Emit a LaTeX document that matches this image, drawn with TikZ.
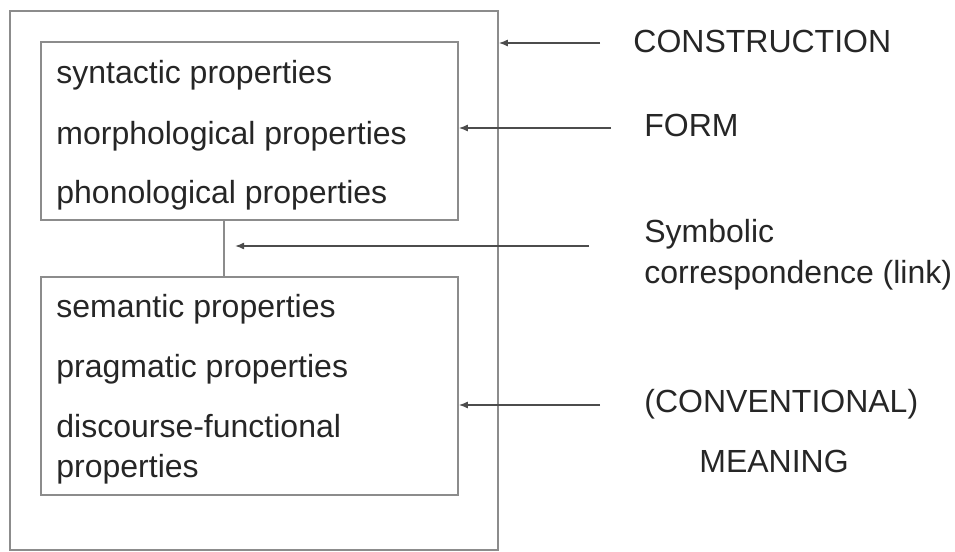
\documentclass[tikz,border=0pt]{standalone}
\usepackage{fontspec}
\setmainfont{Liberation Sans}
\usetikzlibrary{arrows.meta,positioning}

\begin{document}
\begin{tikzpicture}[x=0.5pt, y=-0.5pt,
	box/.style={draw=black!45, line width=0.75pt, inner sep=0pt},
	prop/.style={anchor=base west, inner sep=0pt, text=black!85, font=\fontsize{16}{19}\selectfont},
	arr/.style={-{Latex[length=4.5pt,width=3.5pt]}, draw=black!70, line width=0.75pt}]

		\useasboundingbox (0,0) rectangle (955,552);

		% boxes
		\node[box, minimum width=244pt, minimum height=269.5pt] (construction) at (254,280.5) {};
		\node[box, minimum width=208.5pt, minimum height=89pt] (form) at (249.5,131) {};
		\node[box, minimum width=208.5pt, minimum height=109pt] (meaning) at (249.5,386) {};

		% properties
		\node[prop] (syn) at (56,83) {syntactic properties};
		\node[prop] (mor) at (56,144) {morphological properties};
		\node[prop] (pho) at (56,203) {phonological properties};
		\node[prop] (sem) at (56,317) {semantic properties};
		\node[prop] (pra) at (56,377) {pragmatic properties};
		\node[prop] (dis) at (56,437) {discourse-functional};
		\node[prop] (dis2) at (56,477) {properties};

		% labels
		\node[prop] (lconstr) at (633,52) {CONSTRUCTION};
		\node[prop] (lform) at (644,136) {FORM};
		\node[prop] (lsym) at (644,242) {Symbolic};
		\node[prop] (lsym2) at (644,283) {correspondence (link)};
		\node[prop] (lconv) at (644,412) {(CONVENTIONAL)};
		\node[prop] (lmean) at (699,472) {MEANING};

		% link
		\coordinate (link) at (224,246);
		\draw[draw=black!45, line width=0.75pt] (link |- form.south) -- (link |- meaning.north);

		% arrows
		\coordinate (a1) at (600,43);
		\coordinate (a2) at (611,128);
		\coordinate (a3) at (589,246);
		\coordinate (a4) at (600,405);
		\coordinate (a3end) at (235,246);
		\draw[arr] (a1) -- (construction.east |- a1);
		\draw[arr] (a2) -- (form.east |- a2);
		\draw[arr] (a3) -- (a3end);
		\draw[arr] (a4) -- (meaning.east |- a4);

\end{tikzpicture}
\end{document}
